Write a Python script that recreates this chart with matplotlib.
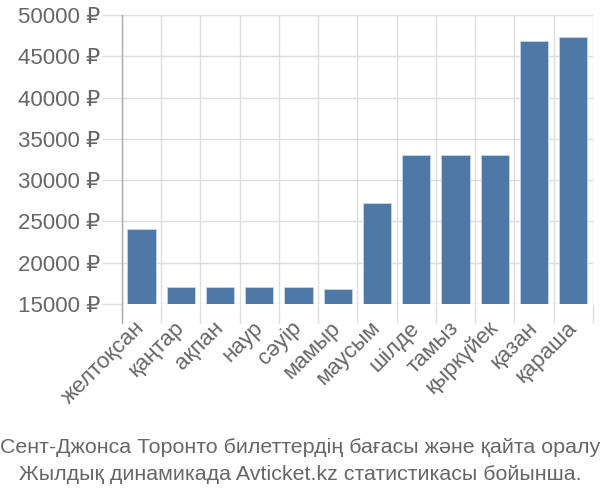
import matplotlib
matplotlib.use("Agg")
import matplotlib.pyplot as plt
import numpy as np

months = ["желтоқсан", "қаңтар", "ақпан", "наур", "сәуір", "мамыр", "маусым",
          "шілде", "тамыз", "қыркүйек", "қазан", "қараша"]
prices = [24100, 17100, 17100, 17100, 17100, 16850, 27200,
          33000, 33000, 33000, 46800, 47300]
yticks = [15000, 20000, 25000, 30000, 35000, 40000, 45000, 50000]
caption = ["Сент-Джонса Торонто билеттердің бағасы және қайта оралу",
           "Жылдық динамикада Avticket.kz статистикасы бойынша."]

plt.rcParams['font.family'] = ['Liberation Sans', 'DejaVu Sans']
txt = '#666666'
grid = '#dddddd'

fig = plt.figure(figsize=(6, 5), dpi=100)
ax = fig.add_axes([0.2033, 0.392, 0.785, 0.578])
x = np.arange(len(months))
ax.bar(x, [p - yticks[0] for p in prices], bottom=yticks[0], width=0.72,
       color='#4e79a7', edgecolor='#c8d6e5', linewidth=0.6, zorder=3)
ax.set_xlim(-0.5, len(months) - 0.5)
ax.set_ylim(yticks[0], yticks[-1])
ax.set_yticks(yticks)
ax.set_yticklabels([f"{v} ₽" for v in yticks])
ax.set_xticks(x)
ax.set_xticklabels(months, rotation=45, ha='right', va='center', rotation_mode='anchor')
ax.set_xticks(np.arange(len(months) + 1) - 0.5, minor=True)
ax.tick_params(axis='x', which='major', length=0, pad=15, labelsize=16, labelcolor=txt)
ax.tick_params(axis='x', which='minor', length=13.7, color=grid, width=1)
ax.tick_params(axis='y', length=14.4, color=grid, width=1, pad=1.5, labelsize=16, labelcolor=txt)
ax.grid(True, which='minor', axis='x', color=grid, linewidth=1, zorder=0)
ax.grid(True, which='major', axis='y', color=grid, linewidth=1, zorder=0)
for s in ['top', 'right', 'bottom']:
    ax.spines[s].set_visible(False)
ax.spines['left'].set_color('#aaaaaa')
ax.spines['left'].set_linewidth(1)
ax.spines['left'].set_bounds(yticks[0] - 2300, yticks[-1])
ax.spines['left'].set_zorder(4)

fig.text(0.5, 0.106, caption[0], ha='center', va='center', fontsize=15.4, color=txt)
fig.text(0.5, 0.051, caption[1], ha='center', va='center', fontsize=15.4, color=txt)
fig.savefig('out.png', dpi=100)
